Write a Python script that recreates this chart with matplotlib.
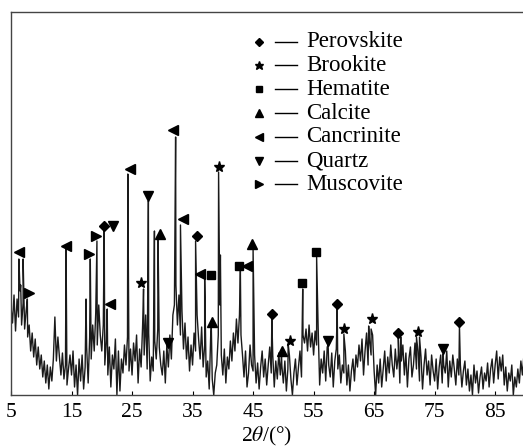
import numpy as np
import matplotlib
matplotlib.use("Agg")
import matplotlib.pyplot as plt

plt.rcParams['font.family'] = ['Liberation Serif', 'DejaVu Serif']
plt.rcParams['mathtext.fontset'] = 'stix'

# background noise, 0.25 deg step from 5 deg (intensity in arbitrary units)
bg_start = 5.0
bg_step = 0.25
bg = [
    88, 72, 100, 64, 96, 78, 104, 70, 92, 66, 84, 58, 70, 44, 62, 38, 56, 30, 48, 26,
    40, 18, 34, 12, 30, 6, 28, 14, 36, 78, 34, 58, 38, 20, 42, 16, 30, 10, 26, 40,
    20, 44, 8, 30, 0, 36, 14, 40, 6, 28, 48, 12, 58, 36, 70, 44, 82, 50, 90, 60,
    44, 70, 30, 54, 20, 48, 8, 40, 26, 56, 0, 44, 4, 36, 22, 50, 30, 58, 24, 46,
    20, 52, 34, 60, 12, 46, 28, 70, 40, 80, 26, 62, 14, 38, 24, 54, 36, 66, 48, 30,
    20, 44, 12, 50, 28, 60, 36, 80, 90, 110, 70, 100, 60, 84, 46, 72, 36, 58, 24, 50,
    30, 62, 44, 80, 56, 36, 68, 28, 50, 18, 34, 6, 60, 16, 0, 22, 30, 60, 90, 40,
    20, 46, 12, 38, 26, 54, 34, 62, 44, 76, 52, 80, 60, 40, 18, 44, 8, 22, 50, 30,
    24, 40, 12, 32, 6, 28, 44, 18, 36, 10, 30, 48, 22, 40, 8, 34, 16, 42, 20, 30,
    12, 34, 4, 26, 40, 16, 0, 22, 36, 10, 28, 44, 18, 60, 52, 66, 44, 70, 48, 62,
    40, 64, 50, 68, 10, 36, 22, 44, 14, 48, 30, 18, 42, 8, 34, 46, 26, 40, 12, 30,
    22, 44, 10, 30, 4, 24, 36, 14, 40, 28, 50, 34, 56, 20, 44, 62, 30, 54, 40, 60,
    24, 0, 30, 12, 36, 8, 26, 44, 14, 38, 22, 50, 30, 18, 46, 26, 40, 12, 34, 50,
    20, 42, 8, 36, 48, 18, 30, 52, 26, 44, 14, 38, 6, 30, 46, 20, 34, 10, 40, 24,
    14, 36, 6, 28, 40, 12, 30, 22, 44, 8, 34, 18, 40, 26, 10, 36, 20, 30, 8, 24,
    34, 10, 26, 4, 20, 0, 30, 12, 24, 2, 18, 28, 6, 22, 14, 32, 8, 26, 36, 12,
    30, 44, 16, 38, 24, 40, 10, 28, 4, 22, 14, 30, 0, 18, 8, 26, 12, 34, 20, 40,
]

# sharp diffraction peaks
peak_pos = [6.3, 6.6, 7.0, 7.7, 14.1, 17.4, 18.1, 19.2, 20.4, 20.9, 24.3, 26.9, 27.7,
            28.7, 29.3, 32.2, 33.0, 35.5, 37.0, 38.1, 39.3, 39.6, 42.9, 45.0, 48.1,
            49.7, 50.8, 53.2, 55.5, 57.4, 58.9, 60.0, 64.1, 64.5, 69.0, 69.4, 72.0,
            72.5, 76.4, 79.1]
peak_int = [136, 110, 136, 96, 146, 96, 136, 154, 166, 86, 221, 106, 194,
            164, 156, 258, 170, 154, 116, 68, 223, 140, 124, 146, 76,
            40, 51, 106, 138, 50, 86, 61, 69, 66, 58, 58, 58,
            58, 41, 69]

# phase markers (2theta, intensity)
phases = ["Perovskite", "Brookite", "Hematite", "Calcite", "Cancrinite", "Quartz", "Muscovite"]
perovskite_x = [20.35, 35.7, 48.1, 58.9, 69.0, 79.1]
perovskite_y = [169, 159, 81, 91, 62, 73]
brookite_x = [26.4, 39.3, 51.1, 60.0, 64.7, 72.2]
brookite_y = [112, 228, 54, 66, 76, 63]
hematite_x = [38.0, 42.6, 53.1, 55.4]
hematite_y = [120, 129, 112, 143]
calcite_x = [29.6, 38.2, 44.9, 49.7]
calcite_y = [161, 73, 151, 44]
cancrinite_x = [6.4, 14.1, 21.3, 24.6, 31.8, 33.5, 36.2, 44.0]
cancrinite_y = [143, 149, 91, 226, 265, 176, 121, 129]
quartz_x = [21.9, 27.7, 31.0, 57.4, 76.4]
quartz_y = [169, 199, 52, 54, 46]
muscovite_x = [7.9, 17.9, 19.0]
muscovite_y = [102, 141, 159]

marker_data = [
    (perovskite_x, perovskite_y, "D", 5),
    (brookite_x, brookite_y, "*", 8),
    (hematite_x, hematite_y, "s", 6),
    (calcite_x, calcite_y, "^", 6.5),
    (cancrinite_x, cancrinite_y, "<", 6.5),
    (quartz_x, quartz_y, "v", 6.5),
    (muscovite_x, muscovite_y, ">", 6.5),
]

bg_x = bg_start + bg_step * np.arange(len(bg))
x = np.concatenate([bg_x, peak_pos])
y = np.concatenate([bg, peak_int])
order = np.argsort(x, kind="stable")
x, y = x[order], y[order]

fig = plt.figure(figsize=(5.23, 4.48), dpi=100)
ax = fig.add_axes([11 / 523, 1 - 395 / 448, 1 - 11 / 523, (395 - 12) / 448])
ax.plot(x, y, color="#1a1a1a", lw=1.0)

for mx, my, m, ms in marker_data:
    ax.plot(mx, my, ls="none", marker=m, ms=ms, color="black")

ax.set_xlim(5, 89.6)
ax.set_ylim(0, 383)
ax.set_xticks([5, 15, 25, 35, 45, 55, 65, 75, 85])
ax.set_yticks([])
ax.tick_params(axis="x", direction="in", length=3, labelsize=15.5, pad=6)
ax.spines["right"].set_visible(False)
for s in ("left", "bottom", "top"):
    ax.spines[s].set_linewidth(1.0)
    ax.spines[s].set_color("#444444")
ax.set_xlabel("2$\\theta$/(°)", fontsize=15.5, labelpad=2)

# legend drawn by hand
def ax_x(px):
    return (px - 11) / 512


for i, (name, (_, _, m, ms)) in enumerate(zip(phases, marker_data)):
    yy = 1 - (41.7 + 23.8 * i - 12) / 383
    ax.plot([ax_x(259)], [yy], transform=ax.transAxes, marker=m, ms=ms * 0.8,
            color="black", ls="none", clip_on=False)
    ax.plot([ax_x(275), ax_x(297)], [yy, yy], transform=ax.transAxes, color="black",
            lw=1.0, clip_on=False)
    ax.text(ax_x(306), yy, name, transform=ax.transAxes, fontsize=16.5,
            va="center", ha="left")

fig.savefig("out.png", dpi=100)
